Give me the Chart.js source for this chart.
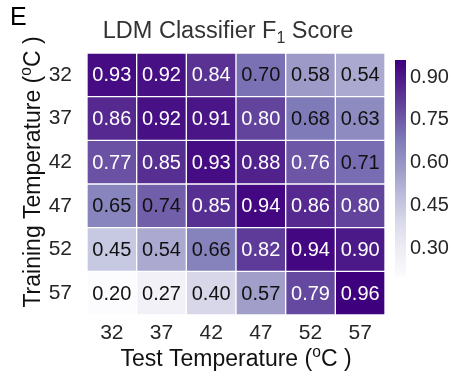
<!DOCTYPE html>
<html>
<head>
<meta charset="utf-8">
<script src="https://cdn.jsdelivr.net/npm/chart.js@4"></script>
<style>
  html, body { margin: 0; padding: 0; background: #fff; }
  #wrap { position: relative; width: 453px; height: 377px; }
  #main { position: absolute; left: 0; top: 0; }
  #cbar { position: absolute; left: 385px; top: 0; }
</style>
</head>
<body>
<div id="wrap">
  <canvas id="main" width="453" height="377"></canvas>
  <canvas id="cbar" width="68" height="377"></canvas>
</div>
<script>
// ---------------- data ----------------
const testTemps = ['32', '37', '42', '47', '52', '57'];
const trainTemps = ['32', '37', '42', '47', '52', '57'];
const train32 = [0.93, 0.92, 0.84, 0.70, 0.58, 0.54];
const train37 = [0.86, 0.92, 0.91, 0.80, 0.68, 0.63];
const train42 = [0.77, 0.85, 0.93, 0.88, 0.76, 0.71];
const train47 = [0.65, 0.74, 0.85, 0.94, 0.86, 0.80];
const train52 = [0.45, 0.54, 0.66, 0.82, 0.94, 0.90];
const train57 = [0.20, 0.27, 0.40, 0.57, 0.79, 0.96];
const colorbarTicks = [0.30, 0.45, 0.60, 0.75, 0.90];

const rows = [train32, train37, train42, train47, train52, train57];
const allVals = rows.flat();
const vmin = Math.min(...allVals);
const vmax = Math.max(...allVals);

// ---------------- colour map (Purples) ----------------
const purples = ['#fcfbfd', '#efedf5', '#dadaeb', '#bcbddc', '#9e9ac8', '#807dba', '#6a51a3', '#54278f', '#3f007d'];
function hexToRgb(h) { return [1, 3, 5].map(i => parseInt(h.substr(i, 2), 16)); }
const purplesRgb = purples.map(hexToRgb);
function colorFor(v) {
  let t = (v - vmin) / (vmax - vmin);
  t = Math.max(0, Math.min(1, t));
  const pos = t * (purplesRgb.length - 1);
  const i = Math.min(Math.floor(pos), purplesRgb.length - 2);
  const f = pos - i;
  const a = purplesRgb[i], b = purplesRgb[i + 1];
  const c = a.map((x, k) => Math.round(x + (b[k] - x) * f));
  return `rgb(${c[0]},${c[1]},${c[2]})`;
}
const textThreshold = 0.75;

const FONT = "'Liberation Sans', Arial, Helvetica, sans-serif";
const TXT = '#262626';

// draw a run of text pieces (supports super/sub script), centred at (x, y) baseline
function drawRich(ctx, parts, x, y, size, color) {
  ctx.save();
  ctx.fillStyle = color;
  ctx.textBaseline = 'alphabetic';
  ctx.textAlign = 'left';
  const widths = parts.map(p => {
    ctx.font = `${size * (p.scale || 1)}px ${FONT}`;
    return ctx.measureText(p.text).width;
  });
  const total = widths.reduce((a, b) => a + b, 0);
  let cx = x - total / 2;
  parts.forEach((p, i) => {
    ctx.font = `${size * (p.scale || 1)}px ${FONT}`;
    ctx.fillText(p.text, cx, y + (p.dy || 0) * size);
    cx += widths[i];
  });
  ctx.restore();
}

// ---------------- plugins ----------------
const cellLabels = {
  id: 'cellLabels',
  afterDatasetsDraw(chart) {
    const ctx = chart.ctx;
    ctx.save();
    ctx.font = `20px ${FONT}`;
    ctx.textAlign = 'center';
    ctx.textBaseline = 'middle';
    chart.data.datasets.forEach((ds, di) => {
      const meta = chart.getDatasetMeta(di);
      meta.data.forEach((el, j) => {
        const v = ds.values[j];
        const p = el.getCenterPoint();
        ctx.fillStyle = v >= textThreshold ? '#ffffff' : '#111111';
        ctx.fillText(v.toFixed(2), p.x, p.y + 1);
      });
    });
    ctx.restore();
  }
};

const titles = {
  id: 'titles',
  afterDraw(chart) {
    const ctx = chart.ctx;
    const a = chart.chartArea;
    // panel letter
    ctx.save();
    ctx.font = `25px ${FONT}`;
    ctx.fillStyle = '#000';
    ctx.textAlign = 'left';
    ctx.textBaseline = 'alphabetic';
    ctx.fillText('E', 10, 25);
    ctx.restore();
    // title
    drawRich(ctx, [
      { text: 'LDM Classifier F' },
      { text: '1', scale: 0.68, dy: 0.2 },
      { text: ' Score' }
    ], 228, 38, 23.5, '#333333');
    // x title
    drawRich(ctx, [
      { text: 'Test Temperature (' },
      { text: 'o', scale: 0.68, dy: -0.38 },
      { text: 'C )' }
    ], (a.left + a.right) / 2, 366, 23, '#111111');
    // y title
    ctx.save();
    ctx.translate(40, (a.top + a.bottom) / 2 - 12);
    ctx.rotate(-Math.PI / 2);
    drawRich(ctx, [
      { text: 'Training Temperature (' },
      { text: 'o', scale: 0.68, dy: -0.38 },
      { text: 'C )' }
    ], 0, 0, 23, '#111111');
    ctx.restore();
  }
};

// ---------------- main heat map ----------------
const datasets = rows.map((vals, r) => ({
  label: trainTemps[r],
  values: vals,
  data: vals.map(() => [r, r + 1]),
  backgroundColor: vals.map(colorFor),
  borderColor: '#ffffff',
  borderWidth: 1,
  borderSkipped: false,
  grouped: false,
  barPercentage: 1,
  categoryPercentage: 1
}));

new Chart(document.getElementById('main'), {
  type: 'bar',
  data: { labels: testTemps, datasets },
  options: {
    responsive: false,
    animation: false,
    devicePixelRatio: 1,
    layout: { padding: { top: 53, left: 0, right: 68, bottom: 0 } },
    plugins: { legend: { display: false }, tooltip: { enabled: false }, title: { display: false } },
    scales: {
      x: {
        type: 'category',
        grid: { display: false, drawTicks: false },
        border: { display: false },
        ticks: { font: { size: 21, family: FONT }, color: TXT, padding: 6, autoSkip: false, maxRotation: 0 },
        afterFit(s) { s.height = 62; }
      },
      y: {
        type: 'linear',
        min: 0,
        max: 6,
        reverse: true,
        grid: { display: false, drawTicks: false },
        border: { display: false },
        afterBuildTicks(s) { s.ticks = trainTemps.map((t, i) => ({ value: i + 0.5 })); },
        ticks: {
          font: { size: 21, family: FONT }, color: TXT, padding: 15, autoSkip: false,
          callback: (v) => trainTemps[Math.floor(v)]
        },
        afterFit(s) { s.width = 87; }
      }
    }
  },
  plugins: [cellLabels, titles]
});

// ---------------- colour bar ----------------
new Chart(document.getElementById('cbar'), {
  type: 'bar',
  data: {
    labels: ['F1'],
    datasets: [{
      data: [[vmin, vmax]],
      borderWidth: 0,
      borderSkipped: false,
      barPercentage: 1,
      categoryPercentage: 1,
      backgroundColor(ctx) {
        const chart = ctx.chart;
        const y = chart.scales.y;
        if (!chart.chartArea || !y) return purples[4];
        const g = chart.ctx.createLinearGradient(0, y.getPixelForValue(vmin), 0, y.getPixelForValue(vmax));
        purples.forEach((c, i) => g.addColorStop(i / (purples.length - 1), c));
        return g;
      }
    }]
  },
  options: {
    responsive: false,
    animation: false,
    devicePixelRatio: 1,
    layout: { padding: { top: 60, bottom: 100, left: 10, right: 0 } },
    plugins: { legend: { display: false }, tooltip: { enabled: false } },
    scales: {
      x: { display: false },
      y: {
        position: 'right',
        min: vmin,
        max: vmax,
        grid: { display: false, drawTicks: false },
        border: { display: false },
        afterBuildTicks(s) { s.ticks = colorbarTicks.map(v => ({ value: v })); },
        ticks: { font: { size: 20, family: FONT }, color: TXT, padding: 4, callback: (v) => v.toFixed(2) },
        afterFit(s) { s.width = 47; }
      }
    }
  }
});
</script>
</body>
</html>
